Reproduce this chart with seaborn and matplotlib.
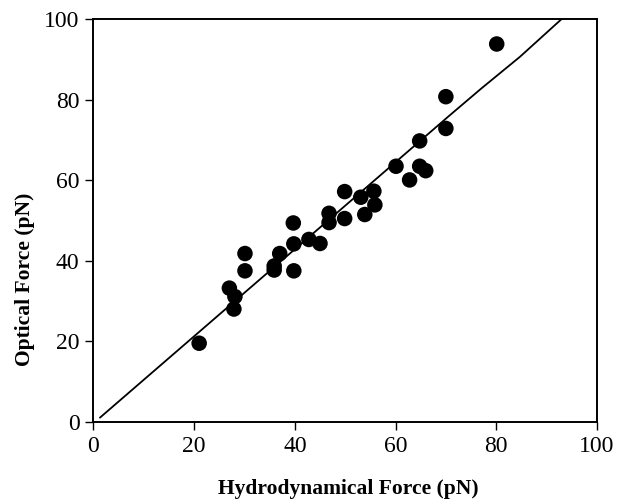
import numpy as np
import pandas as pd
import matplotlib
matplotlib.use('Agg')
import matplotlib.pyplot as plt
import seaborn as sns

# measured points (pN)
hydro = [21.0, 27.0, 28.1, 27.9, 30.1, 30.1, 35.9, 35.9, 37.0, 39.8, 39.8, 39.7,
         42.8, 45.0, 46.8, 46.8, 49.9, 49.9, 53.1, 53.9, 55.7, 55.9, 60.1, 62.8,
         64.8, 64.8, 66.0, 70.0, 70.0, 80.1]
optical = [19.5, 33.2, 31.1, 28.0, 41.8, 37.5, 37.7, 38.7, 41.8, 37.5, 44.2, 49.4,
           45.3, 44.3, 51.8, 49.5, 57.2, 50.5, 55.8, 51.5, 57.3, 53.9, 63.5, 60.1,
           69.8, 63.5, 62.4, 80.8, 72.9, 93.9]

# fitted / model curve
line_x = [1.3, 17.2, 70.8, 77.1, 84.7, 92.9]
line_y = [1.0, 18.2, 76.2, 82.9, 90.7, 100.0]

pts = pd.DataFrame({'hydro': hydro, 'optical': optical})
curve = pd.DataFrame({'x': line_x, 'y': line_y})

sns.set_style('ticks')
plt.rcParams['font.family'] = ['Liberation Serif', 'DejaVu Serif']
plt.rcParams['text.color'] = 'black'
plt.rcParams['axes.labelcolor'] = 'black'

fig = plt.figure(figsize=(6.27, 4.99), dpi=100)
ax = fig.add_axes([0.149, 0.155, 0.803, 0.806])

sns.lineplot(data=curve, x='x', y='y', ax=ax, color='black', lw=1.3, sort=False)
sns.scatterplot(data=pts, x='hydro', y='optical', ax=ax, color='black', s=125,
                edgecolor='none', zorder=3, clip_on=False)

ax.set_xlim(0, 100)
ax.set_ylim(0, 100)
ax.set_xticks(np.arange(0, 101, 20))
ax.set_yticks(np.arange(0, 101, 20))
ax.tick_params(labelsize=17, length=6, width=1, direction='out', colors='black',
               pad=4)
for s in ax.spines.values():
    s.set_linewidth(1.4)
    s.set_color('black')

ax.set_xlabel('Hydrodynamical Force (pN)', fontsize=15.5, fontweight='bold', color='black')
ax.set_ylabel('Optical Force (pN)', fontsize=15.5, fontweight='bold', color='black')
ax.xaxis.set_label_coords(0.507, -0.142)
ax.yaxis.set_label_coords(-0.116, 0.355)

fig.savefig('out.png', dpi=100)
